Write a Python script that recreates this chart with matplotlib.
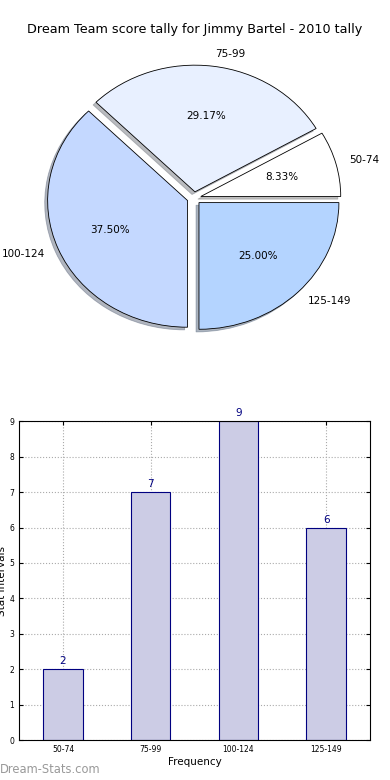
import matplotlib
matplotlib.use('Agg')
import matplotlib.pyplot as plt

# Дані
categories = ['50-74', '75-99', '100-124', '125-149']
counts = [2, 7, 9, 6]
pie_colors = ['#FFFFFF', '#E8F0FF', '#C4D8FF', '#B4D4FF']
title = 'Dream Team score tally for Jimmy Bartel - 2010 tally'

fig = plt.figure(figsize=(3.9, 7.8), dpi=100)

# Кругова діаграма
ax1 = fig.add_axes([0.049, 0.543, 0.897, 0.406])
wedges, texts, autotexts = ax1.pie(counts, labels=categories, colors=pie_colors,
                                   explode=[0.05] * 4,
                                   shadow={'ox': -0.015, 'oy': -0.015, 'shade': 0.5},
                                   autopct='%1.2f%%',
                                   wedgeprops={'edgecolor': 'black', 'linewidth': 0.6},
                                   textprops={'fontsize': 7.5})
ax1.set_aspect('auto')
ax1.set_xlim(-1.25, 1.25)
ax1.set_ylim(-1.25, 1.25)
fig.text(0.5, 0.962, title, ha='center', va='center', fontsize=9.2)

# Стовпчикова діаграма
ax2 = fig.add_axes([0.049, 0.051, 0.9, 0.409])
x = range(len(categories))
bars = ax2.bar(x, counts, width=0.45, color='#CCCCE5', edgecolor='navy', linewidth=0.8, zorder=2)
for bar in bars:
    h = bar.get_height()
    ax2.text(bar.get_x() + bar.get_width() / 2., h + 0.08, f'{int(h)}',
             ha='center', va='bottom', fontsize=7.5, color='navy')

ax2.set_xlim(-0.5, 3.5)
ax2.set_ylim(0, 9)
ax2.set_xticks(list(x))
ax2.set_xticklabels(categories)
ax2.set_yticks(range(10))
ax2.tick_params(labelsize=5.5, direction='in', top=True, right=True, length=3)
ax2.grid(True, linestyle=':', color='#AAAAAA', linewidth=0.8, zorder=0)
ax2.set_axisbelow(True)
ax2.set_xlabel('Frequency', fontsize=7.5, labelpad=2)
ax2.set_ylabel('Stat Intervals', fontsize=7.5, labelpad=2)

fig.text(0.0, 0.013, 'Dream-Stats.com', fontsize=8.3, color='#999999', ha='left', va='center')

fig.savefig('out.png', dpi=100)
